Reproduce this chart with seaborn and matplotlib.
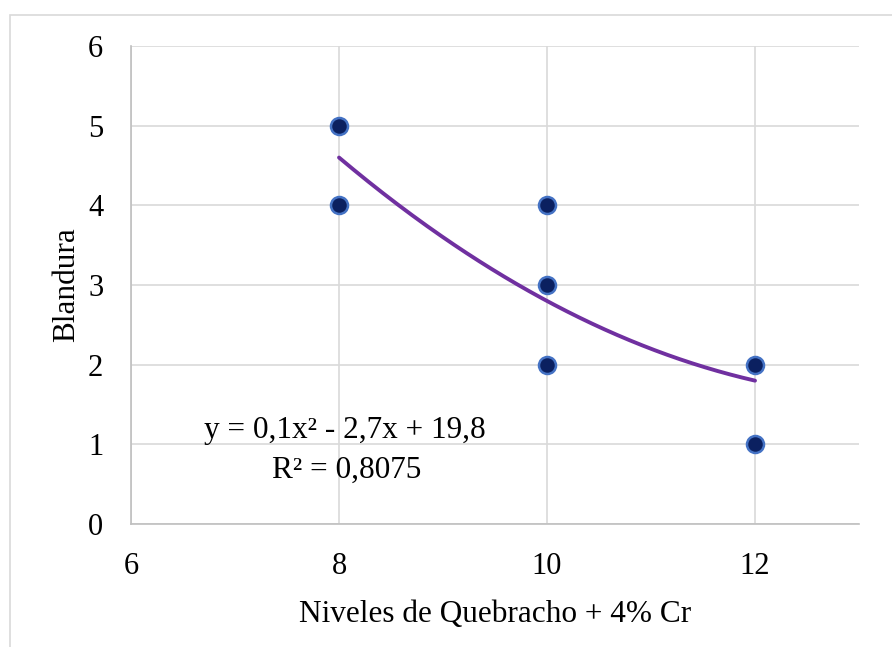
import matplotlib
matplotlib.use("Agg")
import matplotlib.pyplot as plt
import seaborn as sns
import numpy as np
import pandas as pd
from matplotlib.patches import Rectangle

# Data
niveles = [8, 8, 10, 10, 10, 12, 12]
blandura = [5, 4, 4, 3, 2, 2, 1]
coef = [0.1, -2.7, 19.8]
x_ticks = [6, 8, 10, 12]
y_ticks = [0, 1, 2, 3, 4, 5, 6]
eq_text = "y = 0,1x² - 2,7x + 19,8"
r2_text = "R² = 0,8075"
x_label = "Niveles de Quebracho + 4% Cr"
y_label = "Blandura"

sns.set_theme(style="white")
plt.rcParams['font.family'] = ['Liberation Serif', 'DejaVu Serif']
plt.rcParams['text.color'] = 'black'
plt.rcParams['axes.labelcolor'] = 'black'

fig = plt.figure(figsize=(8.92, 6.47), dpi=100)
ax = fig.add_axes([0.1469, 0.190, 0.963 - 0.1469, 0.9289 - 0.190])

# Outer border
fig.patches.append(Rectangle((10 / 892, -0.1), 1.2, 1 - 15 / 647 + 0.1,
                             transform=fig.transFigure, fill=False,
                             edgecolor="#d9d9d9", linewidth=1.2, zorder=0))

df = pd.DataFrame({"x": niveles, "y": blandura})

# Trend line
xs = np.linspace(min(niveles), max(niveles), 200)
ys = np.polyval(coef, xs)
sns.lineplot(x=xs, y=ys, ax=ax, color="#7030A0", linewidth=2.8, zorder=3)

sns.scatterplot(data=df, x="x", y="y", ax=ax, s=150, color="#0b2060",
                edgecolor="#4472C4", linewidth=1.8, zorder=4)

ax.set_xlim(6, 13)
ax.set_ylim(0, 6)
ax.set_xticks(x_ticks)
ax.set_yticks(y_ticks)
ax.grid(True, color="#d9d9d9", linewidth=1.2)
ax.set_axisbelow(True)
for s in ["top", "right"]:
    ax.spines[s].set_visible(False)
for s in ["left", "bottom"]:
    ax.spines[s].set_color("#bfbfbf")
    ax.spines[s].set_linewidth(1.2)
ax.tick_params(axis="both", length=0, labelsize=22, colors="black", pad=20)
ax.set_xlabel(x_label, fontsize=22.5, labelpad=14)
ax.set_ylabel(y_label, fontsize=22.5, labelpad=5)

ax.text(6.70, 1.18, eq_text, fontsize=22.5, ha="left", va="center")
ax.text(7.36, 0.68, r2_text, fontsize=22.5, ha="left", va="center")

fig.savefig("out.png", dpi=100)
